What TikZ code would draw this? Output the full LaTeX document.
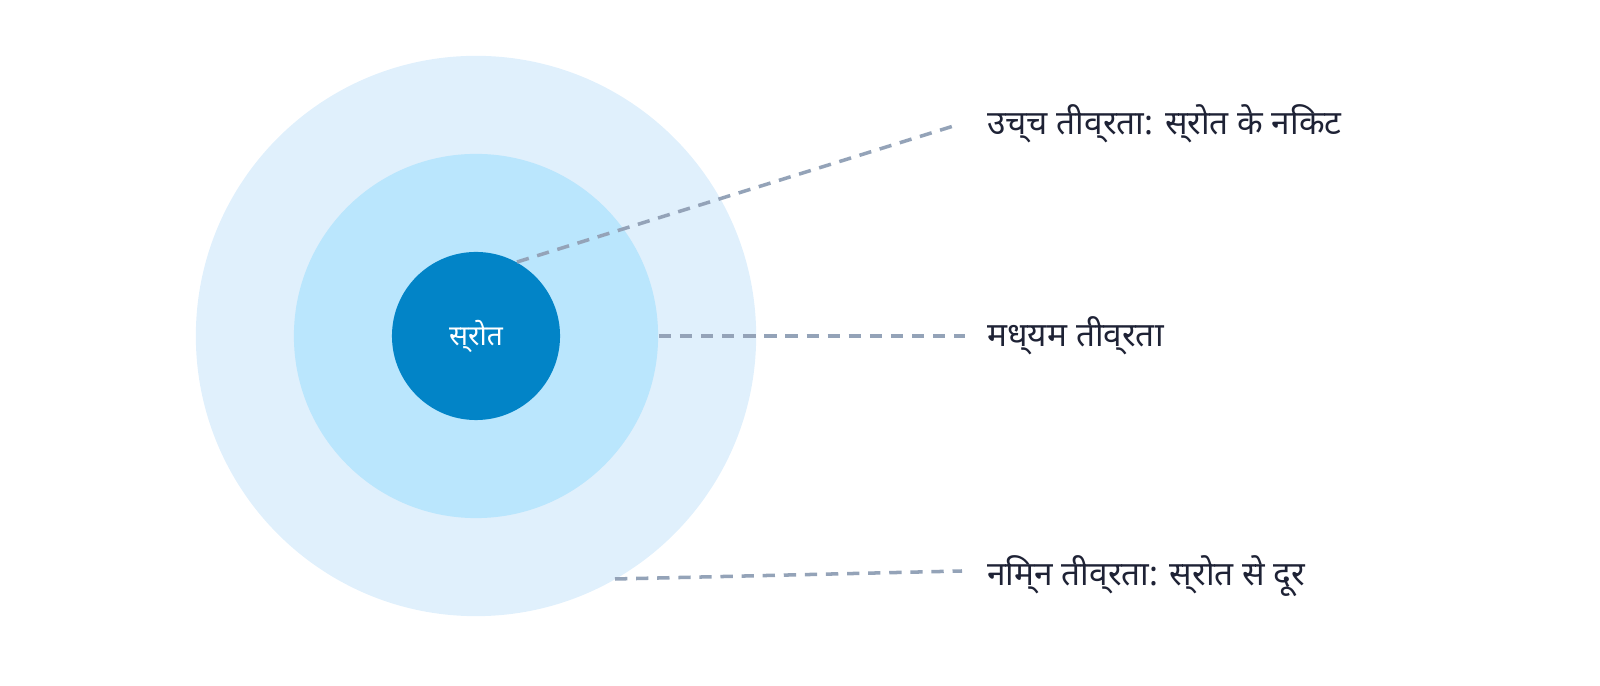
\documentclass[tikz,border=0pt]{standalone}
\usepackage{fontspec}
\newfontfamily\hindi{Noto Sans}
\definecolor{ringout}{HTML}{E0F0FC}
\definecolor{ringmid}{HTML}{BAE6FD}
\definecolor{source}{HTML}{0284C7}
\definecolor{leader}{HTML}{94A3B8}
\definecolor{labeltext}{HTML}{1E2235}
\begin{document}
\begin{tikzpicture}[x=0.01cm,y=-0.01cm,
  zone/.style={circle,inner sep=0pt},
  lead/.style={leader,line width=1pt,dash pattern=on 3.5pt off 2.5pt},
  lbl/.style={anchor=west,text=labeltext,font=\hindi\bfseries\fontsize{9.5}{11}\selectfont}]
\useasboundingbox (0,0) rectangle (1600,686);
\node[zone,fill=ringout,minimum size=5.6cm] (outer) at (476,336) {};
\node[zone,fill=ringmid,minimum size=3.64cm] (mid) at (476,336) {};
\node[zone,fill=source,minimum size=1.68cm,text=white,font=\hindi\bfseries\fontsize{8}{10}\selectfont] (src) at (476,336) {स्रोत};
\node[lbl] (high) at (975,124) {उच्च तीव्रता: स्रोत के निकट};
\node[lbl] (medium) at (975,336) {मध्यम तीव्रता};
\node[lbl] (low) at (975,576) {निम्न तीव्रता: स्रोत से दूर};
\coordinate (p1) at (517,262);
\coordinate (p3) at (615,579);
\coordinate (e1) at (960,124);
\coordinate (e2) at (965,336);
\coordinate (e3) at (962,571);
\draw[lead] (p1) -- (e1);
\draw[lead] (mid.east) -- (e2);
\draw[lead] (p3) -- (e3);
\end{tikzpicture}
\end{document}
